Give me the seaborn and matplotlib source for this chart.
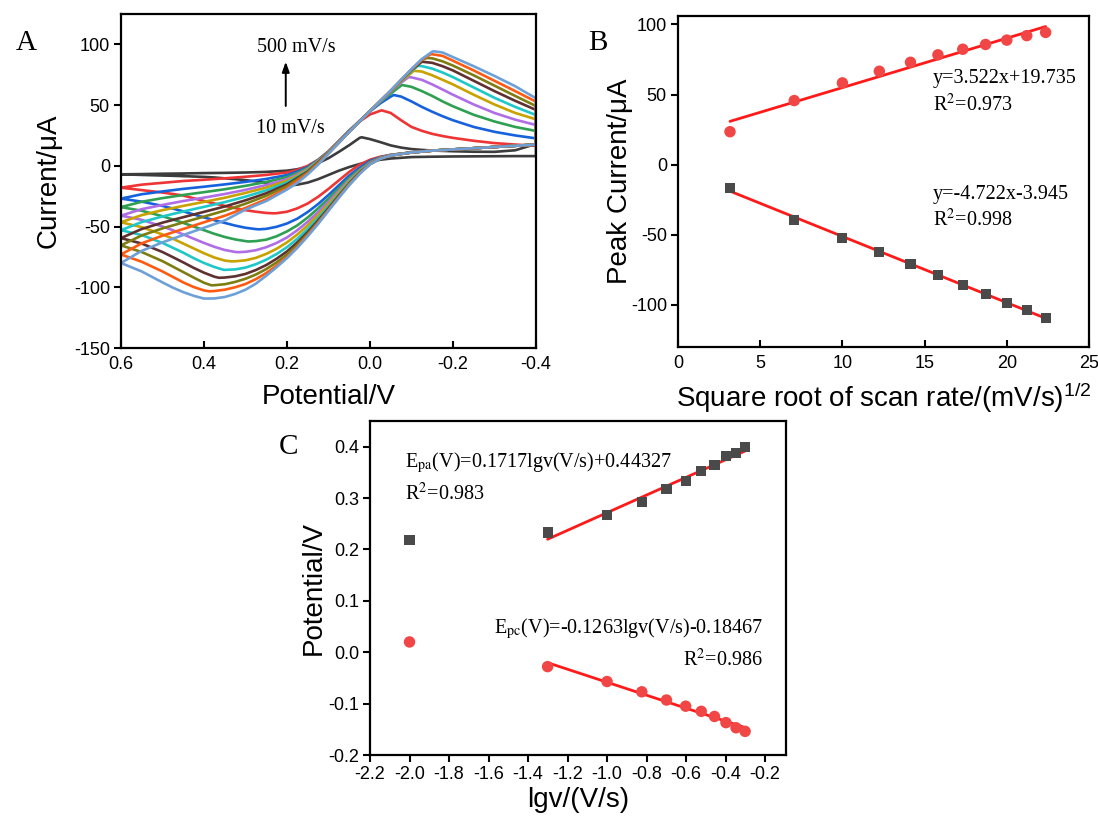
import numpy as np
import pandas as pd
import matplotlib
matplotlib.use("Agg")
import matplotlib.pyplot as plt
import seaborn as sns

# ---------------- data ----------------
scan_rates = [10, 50, 100, 150, 200, 250, 300, 350, 400, 450, 500]  # mV/s
cv_colors = ['#3c3c3c', '#ee3434', '#1662dc', '#2ea052', '#b06ee6', '#c8a200',
             '#1ec8c8', '#5e3030', '#7d7d12', '#ff5a12', '#6ea0d8']

# potentials (V) at which the upper branches (sweep 0.6 -> -0.4) were read
E_up = [0.6, 0.55, 0.5, 0.45, 0.4, 0.35, 0.3, 0.25, 0.2, 0.175, 0.15, 0.125, 0.1, 0.075,
        0.05, 0.025, 0.0, -0.025, -0.05, -0.075, -0.1, -0.125, -0.15, -0.175, -0.2,
        -0.25, -0.3, -0.35, -0.4]
up_010 = [-7, -6.8, -6.5, -6.3, -6.0, -5.8, -5.5, -5.0, -4.0, -2.8, -0.8, 2.2, 6.3, 11.5, 17, 23.0, 22.0, 19.5, 16.8, 15, 13.8, 13.1, 12.6, 12.3, 12.0, 11.6, 11.5, 12.8, 18]
up_050 = [-18, -15.5, -14, -12.5, -11.5, -10.3, -9, -7.5, -5.5, -3.3, 0, 5, 12, 20.5, 29, 36.5, 42.3, 45.6, 43.5, 37.5, 32, 28.8, 26.3, 24.5, 23, 20.6, 18.7, 17.5, 16.5]
up_100 = [-27, -23.4, -21.1, -19, -17.2, -15.3, -13.2, -10.8, -7.6, -4.6, -1, 4.8, 11.7, 20.3, 29, 37, 44.8, 51.5, 57, 57, 53, 48.5, 44.5, 40.8, 37.5, 32, 28, 25, 22.6]
up_150 = [-34, -29.6, -26.6, -24, -21.7, -19.3, -16.5, -13.3, -9.2, -5.8, -1.8, 4.5, 11.5, 20, 28.7, 37, 44.9, 52.5, 59.5, 66.3, 65, 61.5, 57.5, 53, 49, 42, 36.5, 32, 28.7]
up_200 = [-41, -35.7, -32.2, -29, -26.2, -23.2, -19.8, -15.8, -10.9, -7, -2.6, 4.2, 11.3, 19.8, 28.6, 36.8, 45, 53, 61, 68.5, 72.8, 70.8, 67, 62.8, 58.5, 50.5, 43.5, 38, 33.6]
up_250 = [-46.5, -40.6, -36.5, -33, -29.7, -26.3, -22.3, -17.9, -12.2, -8, -3.2, 3.8, 11.1, 19.6, 28.4, 36.7, 45, 53.2, 61.3, 69.5, 76.5, 77.6, 74.5, 70.8, 67, 58.5, 50.5, 43.5, 38.3]
up_300 = [-53, -46.3, -41.7, -37.6, -33.8, -29.9, -25.4, -20.2, -13.7, -9.1, -4, 3.4, 10.9, 19.4, 28.3, 36.6, 45, 53.3, 61.5, 70, 78, 82.1, 80, 76.8, 73, 64.5, 56, 48.5, 41.8]
up_350 = [-59.5, -52, -46.8, -42.3, -37.9, -33.5, -28.4, -22.6, -15.2, -10, -4.7, 3, 10.7, 19.2, 28.2, 36.5, 45, 53.4, 61.7, 70.3, 78.8, 85.7, 84.8, 82, 78.5, 70, 61.5, 53.5, 46]
up_400 = [-65.5, -57.3, -51.5, -46.6, -41.8, -36.9, -31.2, -24.7, -16.6, -11, -5.4, 2.6, 10.5, 19.1, 28.1, 36.5, 45, 53.5, 61.8, 70.5, 79.2, 87.2, 88.5, 86, 82.5, 74.5, 66, 57.5, 49.2]
up_450 = [-73, -63.8, -57.5, -52, -46.5, -41.1, -34.7, -27.5, -18.4, -12.3, -6.2, 1.8, 10.2, 19, 28, 36.5, 45, 53.5, 61.9, 70.7, 79.4, 87.5, 92.0, 90.5, 86.5, 78.5, 70, 61.5, 52.8]
up_500 = [-80, -70, -63, -57, -51, -45, -36, -29, -19.5, -14, -7, 1, 10, 19, 28, 36.5, 45, 53.5, 62, 71, 79.6, 88, 94, 93.3, 89.5, 82, 74, 65.5, 55.6]

# potentials (V) at which the lower branches (sweep -0.4 -> 0.6) were read, listed 0.6 -> -0.4
E_low = [0.6, 0.55, 0.5, 0.475, 0.45, 0.425, 0.4, 0.375, 0.35, 0.325, 0.3, 0.275, 0.25,
         0.225, 0.2, 0.175, 0.15, 0.125, 0.1, 0.075, 0.05, 0.025, 0.0, -0.025, -0.05,
         -0.1, -0.15, -0.2, -0.25, -0.3, -0.35, -0.4]
low_010 = [-7, -7.5, -8, -8.2, -8.5, -8.8, -9.1, -9.6, -10.3, -11, -11.8, -12.8, -14, -16.2, -16.4, -15.5, -13.8, -11, -7.5, -4, -1, 1.5, 3.5, 5, 6, 7.2, 7.5, 7.7, 7.8, 7.9, 8, 8]
low_050 = [-18, -20, -22, -23.2, -24.5, -26.7, -29, -31, -33, -34.8, -36.5, -37.8, -38.8, -39.0, -37.8, -35, -31, -25.5, -19, -12, -5, 1, 5, 7.5, 9, 11, 12.5, 13.5, 14.5, 15.5, 16.5, 17]
low_100 = [-27, -29.5, -33, -35.2, -37.5, -40, -42.5, -44.8, -47, -49.2, -51, -52.1, -51.9, -50.2, -47.5, -43.5, -38, -31.5, -24, -16, -8, -1.5, 4, 7, 9, 11, 12.5, 13.5, 14.5, 15.5, 16.5, 17.5]
low_150 = [-34, -37, -41.5, -44.2, -47, -50, -53, -56, -58.6, -60.6, -62, -62, -60.8, -58, -54, -49, -42.5, -35, -27, -18.5, -10, -3, 3, 6.8, 8.9, 11, 12.5, 13.5, 14.5, 15.5, 16.5, 17.5]
low_200 = [-41, -44.5, -50, -53, -56.5, -60, -63.5, -66.7, -69.3, -70.9, -70.8, -69.5, -67, -63.5, -59, -53, -46, -38, -29.5, -20.5, -11.5, -4, 2.5, 6.5, 8.8, 11, 12.5, 13.5, 14.5, 15.5, 16.5, 17.5]
low_250 = [-46.5, -50.5, -56.5, -60, -64, -68, -72, -75.5, -78, -78.6, -77.8, -75.8, -72.5, -68.3, -63, -56.5, -49, -40.5, -31.5, -22, -12.5, -4.5, 2, 6.3, 8.7, 11, 12.5, 13.5, 14.5, 15.5, 16.5, 17.5]
low_300 = [-53, -57, -63.5, -67.5, -71.5, -76, -80, -83.3, -85.7, -85.3, -83.8, -81, -77.3, -72.6, -67, -60, -52, -43, -33.5, -23.5, -13.5, -5, 1.8, 6.2, 8.6, 11, 12.5, 13.5, 14.5, 15.5, 16.5, 17.5]
low_350 = [-59.5, -64, -71, -75.2, -79.5, -84, -88, -91.3, -92, -91, -89, -85.8, -81.7, -76.5, -70.5, -63, -54.5, -45, -35, -24.5, -14.5, -5.5, 1.5, 6, 8.5, 11, 12.5, 13.5, 14.5, 15.5, 16.5, 17.5]
low_400 = [-65.5, -71, -78.5, -83, -87.5, -92, -96.3, -98.3, -97.5, -95.6, -93, -89.5, -85, -79.5, -73, -65, -56, -46.3, -36, -25.3, -15, -6, 1.5, 6, 8.5, 11, 12.5, 13.5, 14.5, 15.5, 16.5, 17.5]
low_450 = [-73, -79, -87, -91.5, -96, -99.8, -102.6, -103.1, -102, -100, -97.3, -93.3, -88.3, -82.2, -75.2, -66.8, -57.2, -47, -36.5, -25.8, -15.5, -6.3, 1.4, 6, 8.5, 11, 12.5, 13.5, 14.5, 15.5, 16.5, 17.5]
low_500 = [-80, -87, -96, -100.3, -104, -107, -109.3, -109.2, -108, -105.5, -102, -97, -90.5, -83.5, -76, -67.5, -58, -47.8, -37, -26.3, -16, -6.7, 1.3, 5.8, 8.5, 11, 12.5, 13.5, 14.5, 15.5, 16.5, 17.5]

upper_branches = [up_010, up_050, up_100, up_150, up_200, up_250, up_300, up_350, up_400, up_450, up_500]
lower_branches = [low_010, low_050, low_100, low_150, low_200, low_250, low_300, low_350, low_400, low_450, low_500]

# panel B: peak currents vs square root of scan rate
sqrt_v = [3.162, 7.071, 10.0, 12.247, 14.142, 15.811, 17.321, 18.708, 20.0, 21.213, 22.361]
Ipa = [23.5, 45.7, 58.3, 66.6, 73.0, 78.3, 82.3, 85.7, 88.8, 92.0, 94.3]
Ipc = [-16.7, -39.1, -52.3, -62.3, -71.1, -78.7, -85.7, -92.2, -98.4, -103.3, -109.3]
fitB_up = [3.522, 19.735]
fitB_low = [-4.722, -3.945]

# panel C: peak potentials vs lg v
lgv = [-2.0, -1.301, -1.0, -0.824, -0.699, -0.602, -0.523, -0.456, -0.398, -0.347, -0.301]
Epa = [0.218, 0.233, 0.268, 0.293, 0.317, 0.334, 0.352, 0.364, 0.382, 0.387, 0.400]
Epc = [0.020, -0.028, -0.057, -0.077, -0.093, -0.105, -0.115, -0.125, -0.137, -0.147, -0.154]
fitC_pa = [0.1717, 0.44327]
fitC_pc = [-0.1263, -0.18467]

# ---------------- style ----------------
sns.set_theme(style="white")
plt.rcParams.update({
    "font.family": ["Liberation Sans", "DejaVu Sans"],
    "axes.unicode_minus": False,
    "mathtext.fontset": "custom",
    "mathtext.rm": "Liberation Sans",
    "mathtext.it": "Liberation Sans:italic",
    "mathtext.bf": "Liberation Sans:bold",
    "axes.edgecolor": "black",
    "axes.linewidth": 1.6,
    "text.color": "black",
    "axes.labelcolor": "black",
    "xtick.color": "black",
    "ytick.color": "black",
})

W, H = 1098, 821
fig = plt.figure(figsize=(W / 100, H / 100), dpi=100)


def ax_px(l, t, r, b):
    return fig.add_axes([l / W, 1 - b / H, (r - l) / W, (b - t) / H])


axA = ax_px(121, 14, 536, 348)
axB = ax_px(678, 16, 1089, 347)
axC = ax_px(370, 421, 786, 755)

serif = "Liberation Serif"
tick_fs = 13
lab_fs = 20
ann_fs = 14.5


def style_ticks(ax, xdir, ydir):
    ax.tick_params(axis="x", direction=xdir, length=5, width=1.5,
                   labelsize=tick_fs, bottom=True, top=False,
                   pad=6 if xdir == "in" else 3)
    ax.tick_params(axis="y", direction=ydir, length=5, width=1.5,
                   labelsize=tick_fs, left=True, right=False, pad=3)
    for s in ax.spines.values():
        s.set_linewidth(1.6)
        s.set_color("black")


def with_peak(E, I, Ep, Ip):
    pts = [(e, i) for e, i in zip(E, I) if abs(e - Ep) > 0.004]
    pts.append((Ep, Ip))
    pts.sort(key=lambda p: -p[0])
    return [p[0] for p in pts], [p[1] for p in pts]


# ---------------- panel A ----------------
for k, rate in enumerate(scan_rates):
    Eu, Iu = with_peak(E_up, upper_branches[k], Epc[k], Ipa[k])
    El, Il = with_peak(E_low, lower_branches[k], Epa[k], Ipc[k])
    df = pd.DataFrame({"E": Eu + El[::-1], "I": Iu + Il[::-1]})
    sns.lineplot(data=df, x="E", y="I", sort=False, estimator=None,
                 color=cv_colors[k], lw=1.9, ax=axA)

axA.set_xlim(0.6, -0.4)
axA.set_ylim(-150, 125)
axA.set_xticks([0.6, 0.4, 0.2, 0.0, -0.2, -0.4])
axA.set_xticklabels(["0.6", "0.4", "0.2", "0.0", "-0.2", "-0.4"])
axA.set_yticks([-150, -100, -50, 0, 50, 100])
style_ticks(axA, "in", "out")
axA.set_xlabel("Potential/V", fontsize=lab_fs)
axA.set_ylabel("Current/\u03bcA", fontsize=lab_fs)
axA.xaxis.set_label_coords(0.5, -0.107)
axA.yaxis.set_label_coords(-0.142, 0.5)
axA.text(0.178, 94, "500 mV/s", family=serif, fontsize=ann_fs, ha="center", va="baseline")
axA.text(0.193, 26.8, "10 mV/s", family=serif, fontsize=ann_fs, ha="center", va="baseline")
axA.annotate("", xy=(0.203, 88), xytext=(0.203, 47),
             arrowprops=dict(arrowstyle="-|>,head_length=0.5,head_width=0.18",
                             color="black", lw=1.4))

# ---------------- panel B ----------------
xsB = [sqrt_v[0], sqrt_v[-1]]
sns.lineplot(x=xsB, y=[fitB_up[0] * x + fitB_up[1] for x in xsB], color="#ff1a1a", lw=2, ax=axB)
sns.lineplot(x=xsB, y=[fitB_low[0] * x + fitB_low[1] for x in xsB], color="#ff1a1a", lw=2, ax=axB)
sns.scatterplot(x=sqrt_v, y=Ipa, marker="o", s=68, color="#f04646", edgecolor="none", ax=axB, zorder=3)
sns.scatterplot(x=sqrt_v, y=Ipc, marker="s", s=52, color="#4a4a4a", edgecolor="none", ax=axB, zorder=3)
axB.set_xlim(0, 25)
axB.set_ylim(-130, 106)
axB.set_xticks([0, 5, 10, 15, 20, 25])
axB.set_yticks([-100, -50, 0, 50, 100])
style_ticks(axB, "in", "out")
axB.set_xlabel("Square root of scan rate/(mV/s)$^{\\mathrm{1/2}}$", fontsize=lab_fs)
axB.set_ylabel("Peak Current/\u03bcA", fontsize=lab_fs)
axB.xaxis.set_label_coords(0.5, -0.100)
axB.yaxis.set_label_coords(-0.110, 0.5)
axB.text(15.5, 57.9, "y=3.522x+19.735", family=serif, fontsize=ann_fs, va="baseline")
axB.text(15.5, 38, "R$^{2}$=0.973", family=serif, fontsize=ann_fs, va="baseline", math_fontfamily="stix")
axB.text(15.5, -24.3, "y=-4.722x-3.945", family=serif, fontsize=ann_fs, va="baseline")
axB.text(15.5, -44, "R$^{2}$=0.998", family=serif, fontsize=ann_fs, va="baseline", math_fontfamily="stix")

# ---------------- panel C ----------------
xsC = [lgv[1], lgv[-1]]
sns.lineplot(x=xsC, y=[fitC_pa[0] * x + fitC_pa[1] for x in xsC], color="#ff1a1a", lw=2, ax=axC)
sns.lineplot(x=xsC, y=[fitC_pc[0] * x + fitC_pc[1] for x in xsC], color="#ff1a1a", lw=2, ax=axC)
sns.scatterplot(x=lgv, y=Epa, marker="s", s=52, color="#4a4a4a", edgecolor="none", ax=axC, zorder=3)
sns.scatterplot(x=lgv, y=Epc, marker="o", s=68, color="#f04646", edgecolor="none", ax=axC, zorder=3)
axC.set_xlim(-2.2, -0.094)
axC.set_ylim(-0.2, 0.45)
xt = [-2.2, -2.0, -1.8, -1.6, -1.4, -1.2, -1.0, -0.8, -0.6, -0.4, -0.2]
axC.set_xticks(xt)
axC.set_xticklabels([f"{v:.1f}" for v in xt])
yt = [-0.2, -0.1, 0.0, 0.1, 0.2, 0.3, 0.4]
axC.set_yticks(yt)
axC.set_yticklabels([f"{v:.1f}" for v in yt])
style_ticks(axC, "out", "out")
axC.set_xlabel("lgv/(V/s)", fontsize=lab_fs)
axC.set_ylabel("Potential/V", fontsize=lab_fs)
axC.xaxis.set_label_coords(0.5, -0.095)
axC.yaxis.set_label_coords(-0.104, 0.5)
axC.text(-2.023, 0.360, "E$_{\\mathrm{pa}}$(V)=0.1717lgv(V/s)+0.44327", family=serif,
         fontsize=ann_fs, va="baseline", math_fontfamily="stix")
axC.text(-2.023, 0.297, "R$^{2}$=0.983", family=serif, fontsize=ann_fs, va="baseline",
         math_fontfamily="stix")
axC.text(-0.212, 0.0365, "E$_{\\mathrm{pc}}$(V)=-0.1263lgv(V/s)-0.18467", family=serif,
         fontsize=ann_fs, va="baseline", ha="right", math_fontfamily="stix")
axC.text(-0.212, -0.027, "R$^{2}$=0.986", family=serif, fontsize=ann_fs, va="baseline",
         ha="right", math_fontfamily="stix")

# ---------------- panel letters ----------------
fig.text(26 / W, 1 - 43 / H, "A", family=serif, fontsize=21, ha="center", va="center")
fig.text(598 / W, 1 - 43 / H, "B", family=serif, fontsize=21, ha="center", va="center")
fig.text(289 / W, 1 - 447 / H, "C", family=serif, fontsize=21, ha="center", va="center")

fig.savefig("out.png", dpi=100)
